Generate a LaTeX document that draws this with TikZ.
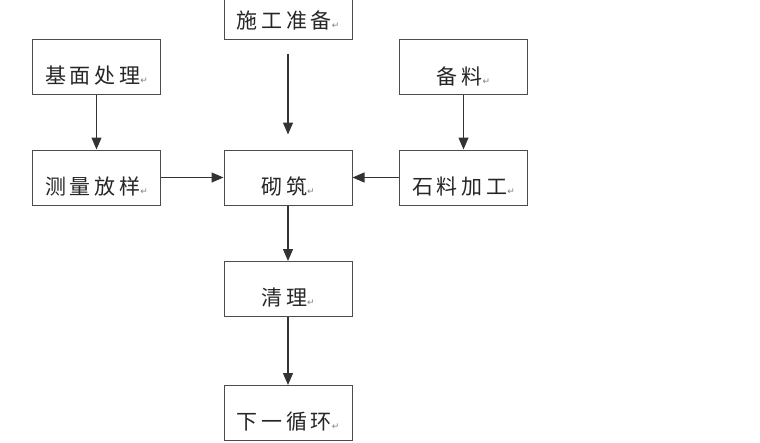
\documentclass[tikz,border=0pt]{standalone}
\usepackage{fontspec}
\newfontfamily\cjk[LetterSpace=18]{Noto Sans CJK SC}
\newfontfamily\symf{DejaVu Sans}
\usetikzlibrary{arrows.meta}
\newcommand{\retmk}{{\symf\fontsize{9}{9}\selectfont\color{gray}↵}}
\tikzset{
  stepbox/.style={draw=black!70, line width=1pt, minimum width=128pt, minimum height=55pt, inner sep=0pt},
  lbl/.style={yshift=-9pt, font=\cjk\fontsize{21}{21}\selectfont, text=black!85},
  arr/.style={draw=black!80, line width=1.3pt, -{Triangle[length=12pt,width=10pt]}}
}
\begin{document}
\begin{tikzpicture}[x=1pt,y=-1pt]
\useasboundingbox (0,0) rectangle (760,442);
\begin{scope}
\clip (0,0) rectangle (760,442);
\node[stepbox, label={[lbl]center:施工准备\retmk}] (sg) at (288,11.5) {};
\end{scope}
\node[stepbox, label={[lbl]center:基面处理\retmk}] (jm) at (96.5,67) {};
\node[stepbox, label={[lbl]center:备料\retmk}] (bl) at (463.5,67) {};
\node[stepbox, label={[lbl]center:测量放样\retmk}] (cl) at (96.5,177.5) {};
\node[stepbox, label={[lbl]center:砌筑\retmk}] (qz) at (288,177.5) {};
\node[stepbox, label={[lbl]center:石料加工\retmk}] (sl) at (463.5,177.5) {};
\node[stepbox, label={[lbl]center:清理\retmk}] (ql) at (288,289) {};
\node[stepbox, label={[lbl]center:下一循环\retmk}] (xy) at (288,413) {};
\draw[arr, shorten <=14pt, shorten >=15pt] (sg.south) -- (qz.north);
\draw[arr] (jm) -- (cl);
\draw[arr] (bl) -- (sl);
\draw[arr] (cl) -- (qz);
\draw[arr] (sl) -- (qz);
\draw[arr] (qz) -- (ql);
\draw[arr] (ql) -- (xy);
\end{tikzpicture}
\end{document}
